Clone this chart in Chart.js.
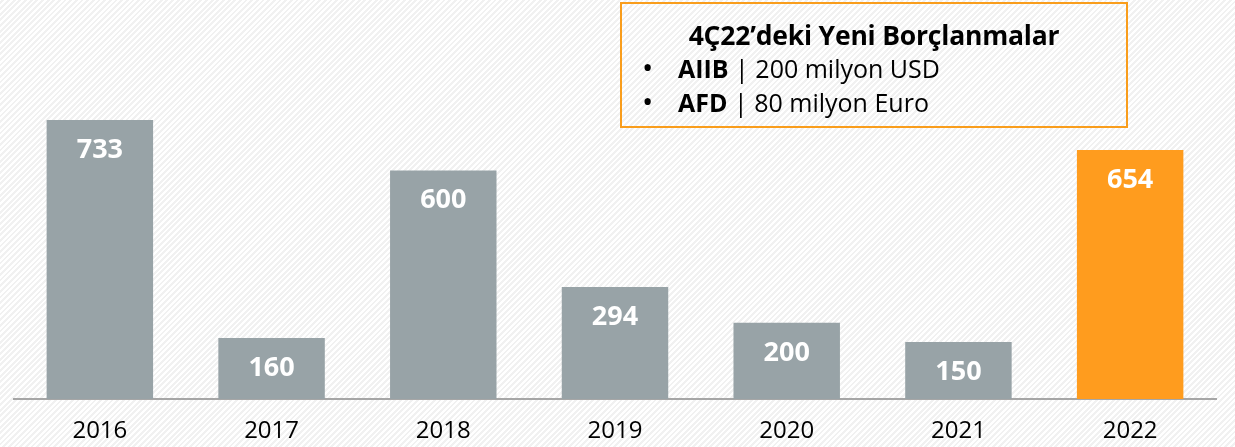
<!DOCTYPE html>
<html>
<head>
<meta charset="utf-8">
<script src="https://cdn.jsdelivr.net/npm/chart.js@4/dist/chart.umd.min.js"></script>
<style>
  html, body { margin: 0; padding: 0; }
  body {
    width: 1235px; height: 447px; overflow: hidden;
    background: repeating-linear-gradient(-45deg, #ffffff 0px, #ffffff 2px, #f1f1f1 2px, #f1f1f1 4px);
    font-family: "Open Sans", sans-serif;
  }
  .wrap { position: relative; width: 1235px; height: 447px; }
  .note {
    position: absolute; left: 620px; top: 2px; width: 504px; height: 122px;
    border: 2px solid #f99d1c; box-sizing: content-box;
    color: #000; font-size: 25px;
  }
  .note .title { position: absolute; left: 0; right: 0; top: 15px; text-align: center; font-weight: 700; font-size: 26.5px; line-height: 32px; letter-spacing: -0.2px; }
  .note .row { position: absolute; left: 20px; line-height: 32px; white-space: nowrap; }
  .note .row .dot { display: inline-block; width: 36px; font-size: 30px; vertical-align: top; line-height: 30px; }
  .note b { font-weight: 700; }
</style>
</head>
<body>
<div class="wrap">
  <canvas id="c" width="1235" height="447"></canvas>
  <div class="note">
    <div class="title">4Ç22’deki Yeni Borçlanmalar</div>
    <div class="row" style="top:48px"><span class="dot">•</span><b>AIIB</b> | 200 milyon USD</div>
    <div class="row" style="top:82px"><span class="dot">•</span><b>AFD</b> | 80 milyon Euro</div>
  </div>
</div>
<script>
const years  = ['2016','2017','2018','2019','2020','2021','2022'];
const values = [733, 160, 600, 294, 200, 150, 654];
const barColors = ['#98a3a7','#98a3a7','#98a3a7','#98a3a7','#98a3a7','#98a3a7','#ff9c1e'];

// white value labels inside the top of each bar
const valueLabels = {
  id: 'valueLabels',
  afterDatasetsDraw(chart) {
    const ctx = chart.ctx;
    const meta = chart.getDatasetMeta(0);
    ctx.save();
    ctx.font = '700 27px "Open Sans"';
    ctx.fillStyle = '#ffffff';
    ctx.textAlign = 'center';
    ctx.textBaseline = 'middle';
    meta.data.forEach((bar, i) => {
      ctx.fillText(String(values[i]), bar.x, bar.y + 30);
    });
    ctx.restore();
  }
};

new Chart(document.getElementById('c').getContext('2d'), {
  type: 'bar',
  data: { labels: years, datasets: [{ data: values, backgroundColor: barColors, borderWidth: 0 }] },
  options: {
    responsive: false,
    animation: false,
    layout: { padding: { left: 14, right: 19, top: 0, bottom: 0 } },
    plugins: { legend: { display: false }, tooltip: { enabled: false } },
    datasets: { bar: { categoryPercentage: 1, barPercentage: 0.62 } },
    scales: {
      x: {
        grid: { display: false, drawTicks: false },
        border: { display: true, color: '#a6a6a6', width: 2 },
        ticks: { color: '#000', font: { family: 'Open Sans', size: 24 }, padding: 18 },
        afterFit: (scale) => { scale.height = 48; }
      },
      y: { display: false, min: 0, max: 1048 }
    }
  },
  plugins: [valueLabels]
});
</script>
</body>
</html>
